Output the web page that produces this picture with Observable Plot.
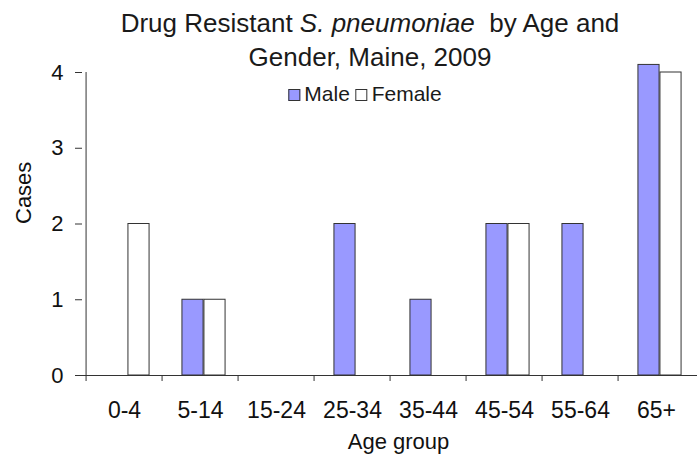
<!DOCTYPE html>
<html>
<head>
<meta charset="utf-8">
<script src="https://cdn.jsdelivr.net/npm/d3@7"></script>
<script src="https://cdn.jsdelivr.net/npm/@observablehq/plot@0.6"></script>
<style>
  body { margin: 0; background: #fff; font-family: "Liberation Sans", Arial, sans-serif; }
  #wrap { position: relative; width: 697px; height: 462px; overflow: hidden; background: #fff; }
  .title { position: absolute; left: 370px; transform: translateX(-50%); font-size: 26px; line-height: 1; color: #1a1a1a; white-space: pre; }
  .legend { position: absolute; left: 365px; top: 83px; transform: translateX(-50%); font-size: 21px; line-height: 1; color: #1a1a1a; white-space: nowrap; }
  .sw { display: inline-block; width: 10px; height: 10px; border: 1px solid #333; vertical-align: 0px; margin-right: 4px; }
  #chart { position: absolute; left: 0; top: 0; }
</style>
</head>
<body>
<div id="wrap">
  <div id="chart"></div>
  <div class="title" style="top:10px">Drug Resistant <i>S. pneumoniae</i>  by Age and</div>
  <div class="title" style="top:44px">Gender, Maine, 2009</div>
  <div class="legend"><span class="sw" style="background:#9999ff"></span>Male <span class="sw" style="background:#fff"></span>Female</div>
</div>
<script>
// ---- data ----
const ageGroups = ["0-4", "5-14", "15-24", "25-34", "35-44", "45-54", "55-64", "65+"];
const maleCases = [0, 1, 0, 2, 1, 2, 2, 4.1];
const femaleCases = [2, 1, 0, 0, 0, 2, 0, 4];
const yTicks = [0, 1, 2, 3, 4];
const xLabel = "Age group";
const yLabel = "Cases";

// ---- layout ----
const W = 697, H = 462;
const mL = 82, mR = 0, mT = 72, mB = 87;
const bw = (W - mL - mR) / ageGroups.length;
const barW = 22, shift = 3.5;
const lineColor = "#333";
const textColor = "#111";

const maleRows = ageGroups.map((a, i) => ({age: a, cases: maleCases[i]})).filter(d => d.cases > 0);
const femaleRows = ageGroups.map((a, i) => ({age: a, cases: femaleCases[i]})).filter(d => d.cases > 0);

const chart = Plot.plot({
  width: W,
  height: H,
  marginLeft: mL,
  marginRight: mR,
  marginTop: mT,
  marginBottom: mB,
  style: {fontFamily: "Liberation Sans, Arial, sans-serif", background: "white", color: textColor},
  x: {type: "band", domain: ageGroups, padding: 0},
  y: {domain: [0, 4]},
  marks: [
    Plot.barY(maleRows, {
      x: "age", y: "cases", fill: "#9999ff", stroke: lineColor, strokeWidth: 1,
      insetLeft: bw / 2 - barW + shift, insetRight: bw / 2 - shift
    }),
    Plot.barY(femaleRows, {
      x: "age", y: "cases", fill: "white", stroke: lineColor, strokeWidth: 1,
      insetLeft: bw / 2 + shift, insetRight: bw / 2 - barW - shift
    }),
    Plot.ruleY([0], {stroke: lineColor}),
    Plot.ruleX([ageGroups[0]], {x: d => d, dx: -bw / 2, y1: 0, y2: 4, stroke: lineColor}),
    Plot.axisY({ticks: yTicks, tickFormat: d => String(d), tickSize: 7, tickPadding: 12, fontSize: 22, label: null, stroke: lineColor, fill: textColor}),
    Plot.axisX({tickSize: 6, dx: -bw / 2, fill: "none", stroke: lineColor, label: null}),
    Plot.axisX({tickSize: 0, tickPadding: 26, fontSize: 23, label: null, fill: textColor}),
    Plot.text([xLabel], {text: d => d, frameAnchor: "bottom", dx: 8.5, dy: 73, fontSize: 22, fill: textColor}),
    Plot.text([yLabel], {text: d => d, frameAnchor: "left", rotate: -90, dx: -58.5, fontSize: 22, fill: textColor})
  ]
});
document.getElementById("chart").appendChild(chart);
</script>
</body>
</html>
